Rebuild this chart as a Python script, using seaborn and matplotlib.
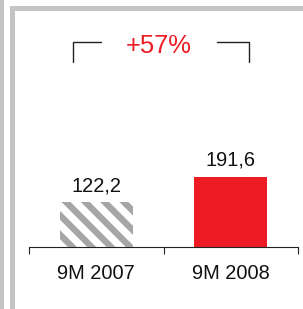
import matplotlib
matplotlib.use("Agg")
import matplotlib.pyplot as plt
import seaborn as sns
from matplotlib.patches import Rectangle
from matplotlib.lines import Line2D

categories = ["9M 2007", "9M 2008"]
values = [122.2, 191.6]
growth_label = "+57%"

sns.set_theme(style="white")
plt.rcParams['font.family'] = ['Liberation Sans', 'DejaVu Sans']

W, H = 303, 309
fig = plt.figure(figsize=(W / 100, H / 100), dpi=100)
fig.patch.set_facecolor("white")


def px(x0, y0, w, h):
    # pixel rect (top-left origin) -> figure fraction
    return (x0 / W, 1 - (y0 + h) / H, w / W, h / H)


def fx(x):
    return x / W


def fy(y):
    return 1 - y / H


# decorative gray frame
gray = "#c4c4c4"
for (x0, y0, w, h) in [(0, 0, 3.5, H), (10, 6, 5, H - 6), (10, 6, W - 10, 5)]:
    l, b, ww, hh = px(x0, y0, w, h)
    fig.patches.append(Rectangle((l, b), ww, hh, transform=fig.transFigure,
                                 facecolor=gray, edgecolor="none", zorder=0))

ax_top, ax_base = 20, 247
l, b, ww, hh = px(29, ax_top, 298 - 29, ax_base - ax_top)
ax = fig.add_axes([l, b, ww, hh])
ax.set_facecolor("none")

sns.barplot(x=categories, y=values, hue=categories, palette=["white", "#ED1C24"],
            width=0.54, legend=False, ax=ax, saturation=1)

p0 = ax.patches[0]
p0.set_linewidth(0)
ax.patches[1].set_linewidth(0)

ax.set_xlim(-0.5, 1.5)
ax.set_ylim(0, (ax_base - ax_top) / 0.367)

# diagonal gray stripes clipped to the first bar
step = 19.3
for k in range(-5, 8):
    xs = 66 + k * step
    ln = Line2D([fx(xs - 10), fx(xs + 90)], [fy(202 - 10), fy(202 + 90)],
                transform=fig.transFigure, color="#a6a6a6", lw=4.6,
                solid_capstyle="butt", zorder=3)
    fig.add_artist(ln)
    ln.set_clip_path(p0)

for i, v in enumerate(values):
    ax.annotate(f"{v:.1f}".replace(".", ","), (i, v), xytext=(0, 8),
                textcoords="offset points", ha="center", va="baseline",
                fontsize=14.4, color="#111111")

for s in ["top", "right", "left"]:
    ax.spines[s].set_visible(False)
ax.spines["bottom"].set_color("#222222")
ax.spines["bottom"].set_linewidth(0.8)
ax.spines["bottom"].set_zorder(5)
ax.set_yticks([])
ax.set_xlabel("")
ax.set_ylabel("")
ax.set_xticks([-0.5, 0.5, 1.5], minor=True)
ax.tick_params(axis="x", which="minor", length=5, width=0.8, color="#222222",
               direction="out", bottom=True)
ax.tick_params(axis="x", which="major", length=0, pad=12, labelsize=14.4,
               labelcolor="#111111")

# bracket and growth label
bc = "#222222"
fig.add_artist(Line2D([fx(73), fx(73), fx(100.5)], [fy(62), fy(42), fy(42)],
                      transform=fig.transFigure, color=bc, lw=1.0))
fig.add_artist(Line2D([fx(217), fx(248.5), fx(248.5)], [fy(42), fy(42), fy(62)],
                      transform=fig.transFigure, color=bc, lw=1.0))
fig.text(fx(158.5), fy(53), growth_label, ha="center", va="baseline",
         fontsize=18.4, color="#ED1C24")

fig.savefig("out.png", dpi=100)
